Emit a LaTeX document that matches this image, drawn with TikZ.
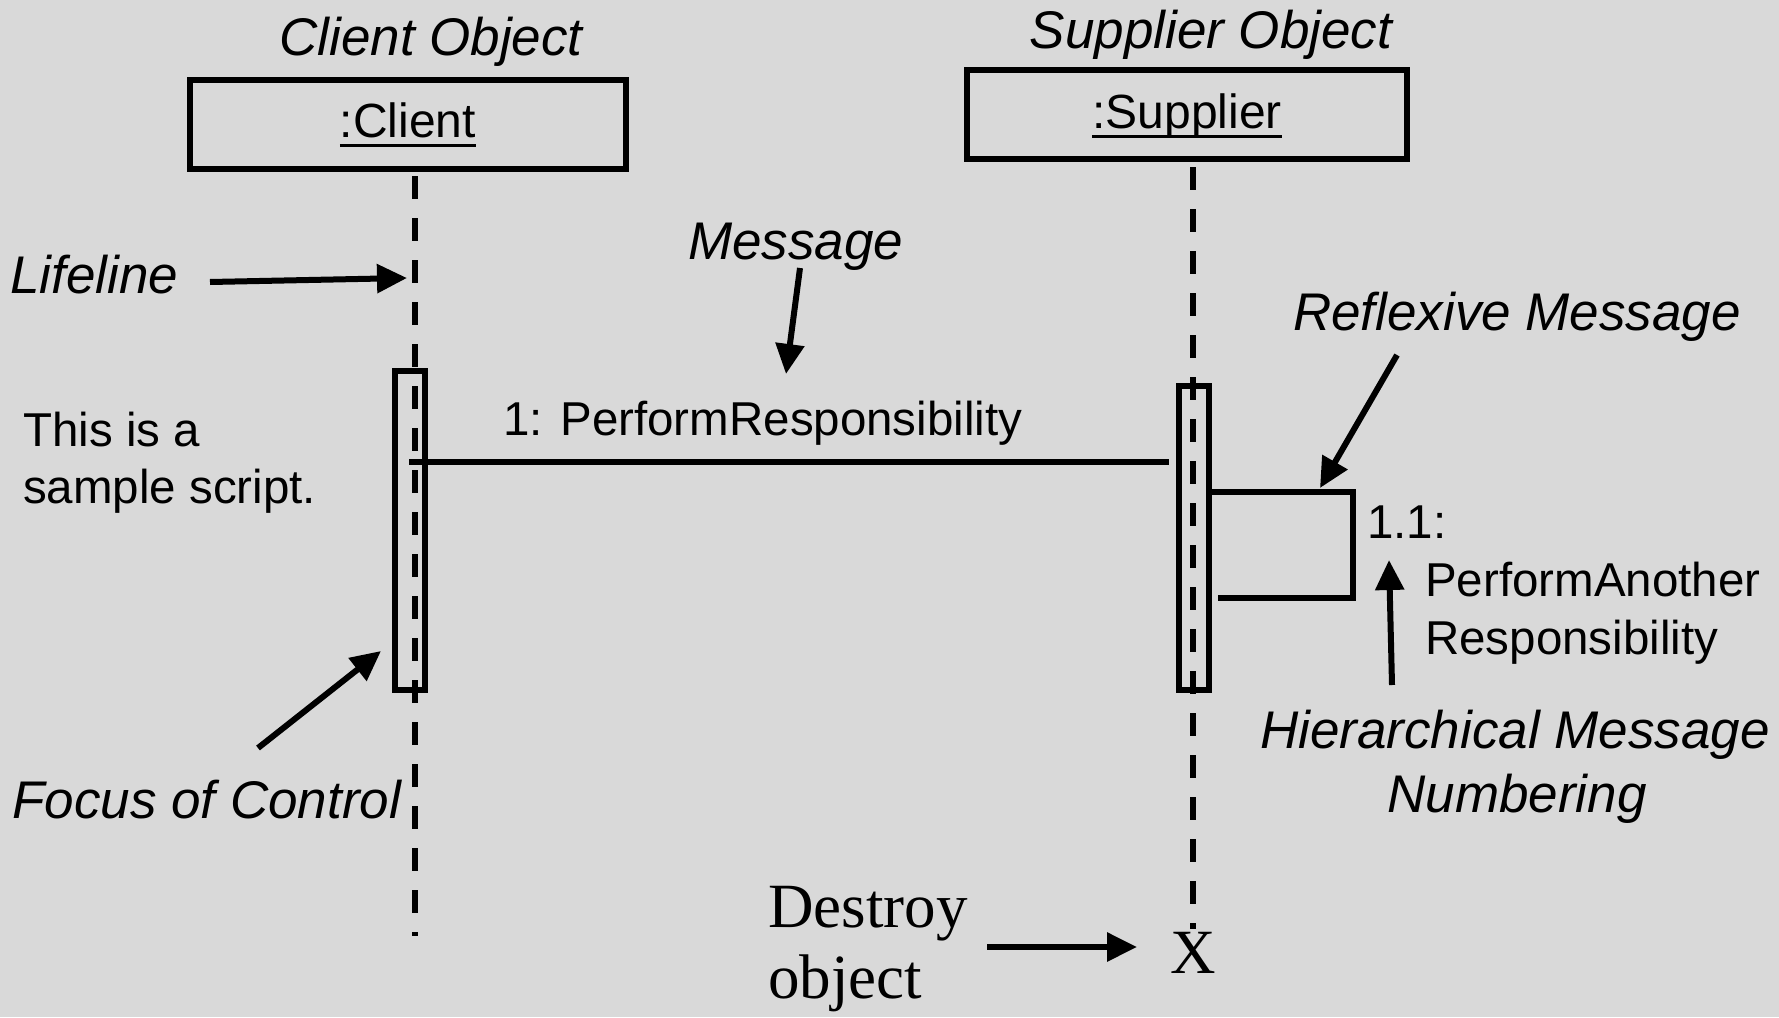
\documentclass[tikz,border=0pt]{standalone}
\usepackage{fontspec}
\setmainfont{Liberation Sans}
\newfontfamily\serifface{Liberation Serif}
\usetikzlibrary{arrows.meta}

% underlined object name with a heavy rule
\newcommand\ulbox[1]{\setbox0\hbox{#1}\rlap{\rule[-9pt]{\wd0}{3pt}}\box0}

\definecolor{canvas}{HTML}{D9D9D9}

\begin{document}
\begin{tikzpicture}[x=1pt,y=-1pt,
  lbl/.style={inner sep=0pt, font=\fontsize{53}{64}\selectfont\itshape},
  txt/.style={inner sep=0pt, font=\fontsize{47.5}{58}\selectfont},
  serif/.style={inner sep=0pt, font=\fontsize{63}{71}\selectfont\serifface},
  obj/.style={draw, line width=6pt, inner sep=0pt, minimum height=89pt,
              text depth=0pt, font=\fontsize{48}{58}\selectfont},
  act/.style={draw, line width=6pt, minimum width=30pt, inner sep=0pt},
  life/.style={line width=5.5pt, dash pattern=on 23pt off 19pt},
  wire/.style={line width=6pt},
  ptr/.style={line width=6pt, -{Triangle[length=30pt,width=28pt]}},
]
% canvas
\fill[canvas] (0,0) rectangle (1779,1017);
\useasboundingbox (0,0) rectangle (1779,1017);

% object headers
\node[lbl, anchor=base] (clientlbl) at (431,55) {Client Object};
\node[lbl, anchor=base] (supplierlbl) at (1211,48) {Supplier Object};
\node[obj, minimum width=436pt, text height=26pt] (clientbox) at (408,124.5) {\ulbox{:Client}};
\node[obj, minimum width=440pt, text height=28pt] (supplierbox) at (1187,114.5) {\ulbox{:Supplier}};

% lifelines
\coordinate (clienttop) at (415,176);
\coordinate (clientend) at (415,936);
\coordinate (suppliertop) at (1193,167);
\coordinate (supplierend) at (1193,929);
\draw[life] (clienttop) -- (clientend);
\draw[life] (suppliertop) -- (supplierend);

% activation bars
\node[act, minimum height=319pt] (clientact) at (410,530.5) {};
\node[act, minimum height=304pt] (supplieract) at (1194,538) {};

% message
\coordinate (msgfrom) at (409,462);
\coordinate (msgto) at (1169,462);
\draw[wire] (msgfrom) -- (msgto);
\node[txt, anchor=base west] (msgtext) at (503,435) {1: PerformResponsibility};

% reflexive message
\coordinate (loopa) at (1206,492);
\coordinate (loopb) at (1353,492);
\coordinate (loopc) at (1353,598);
\coordinate (loopd) at (1218,598);
\draw[wire] (loopa) -- (loopb) -- (loopc) -- (loopd);
\node[txt, anchor=base west] (num1) at (1367,538) {1.1:};
\node[txt, anchor=base west] (num2) at (1425,596) {PerformAnother};
\node[txt, anchor=base west] (num3) at (1425,654) {Responsibility};

% script
\node[txt, anchor=base west] (script1) at (23,446) {This is a};
\node[txt, anchor=base west] (script2) at (23,503) {sample script.};

% annotations
\node[lbl, anchor=base west] (lifelinelbl) at (10,293) {Lifeline};
\coordinate (lifelinefrom) at (210,282);
\coordinate (lifelineto) at (407,278);
\draw[ptr] (lifelinefrom) -- (lifelineto);

\node[lbl, anchor=base west] (messagelbl) at (688,259) {Message};
\coordinate (messagefrom) at (800,268);
\coordinate (messageto) at (786,374);
\draw[ptr] (messagefrom) -- (messageto);

\node[lbl, anchor=base west] (reflexlbl) at (1293,330) {Reflexive Message};
\coordinate (reflexfrom) at (1397,355);
\coordinate (reflexto) at (1320,488);
\draw[ptr] (reflexfrom) -- (reflexto);

\node[lbl, anchor=base west] (focuslbl) at (12,818) {Focus of Control};
\coordinate (focusfrom) at (258,748);
\coordinate (focusto) at (381,651);
\draw[ptr] (focusfrom) -- (focusto);

\node[lbl, anchor=base] (hier1) at (1515,748) {Hierarchical Message};
\node[lbl, anchor=base] (hier2) at (1517,812) {Numbering};
\coordinate (hierfrom) at (1392,685);
\coordinate (hierto) at (1389,560);
\draw[ptr] (hierfrom) -- (hierto);

% destruction
\node[serif, anchor=base west] (destroy1) at (768,927) {Destroy};
\node[serif, anchor=base west] (destroy2) at (768,998) {object};
\node[serif, anchor=base] (xmark) at (1193,973) {X};
\coordinate (destroyfrom) at (987,947);
\coordinate (destroyto) at (1137,947);
\draw[ptr] (destroyfrom) -- (destroyto);
\end{tikzpicture}
\end{document}
